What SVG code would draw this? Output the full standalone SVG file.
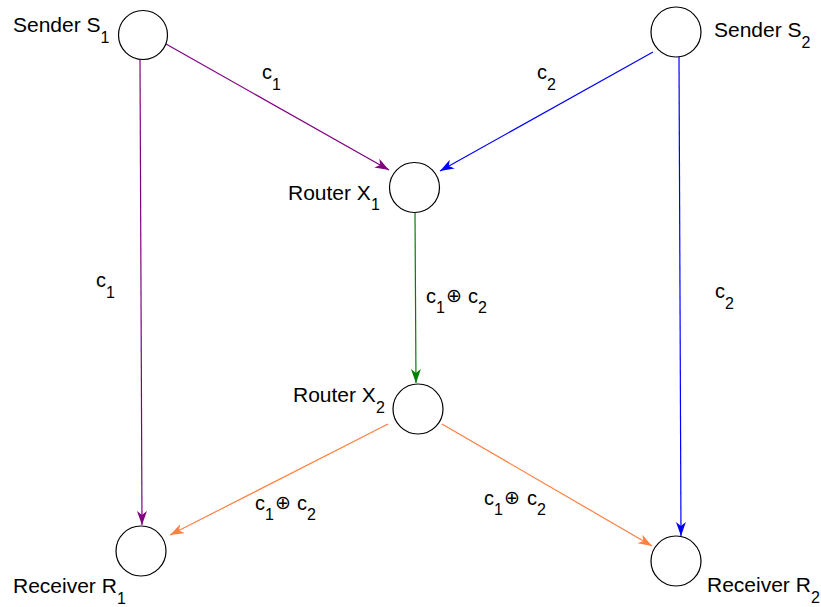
<svg xmlns="http://www.w3.org/2000/svg" width="821" height="607" viewBox="0 0 821 607">
<style>
text{font-family:"Liberation Sans",Arial,sans-serif;fill:#000}
.lbl{font-size:21px}
.el{font-size:20px}
.sub{font-size:16px}
.ox{font-size:19px;font-family:"DejaVu Sans",sans-serif}
.node{fill:#fff;stroke:#000;stroke-width:1.2}
.e{fill:none;stroke-width:1.2}
</style>
<defs>
<marker id="ap" markerUnits="userSpaceOnUse" markerWidth="15" markerHeight="11" refX="14" refY="5" orient="auto"><path d="M0,0 L14,5 L0,10 L4,5 z" fill="#800080"/></marker>
<marker id="ab" markerUnits="userSpaceOnUse" markerWidth="15" markerHeight="11" refX="14" refY="5" orient="auto"><path d="M0,0 L14,5 L0,10 L4,5 z" fill="#0000ff"/></marker>
<marker id="ag" markerUnits="userSpaceOnUse" markerWidth="15" markerHeight="11" refX="14" refY="5" orient="auto"><path d="M0,0 L14,5 L0,10 L4,5 z" fill="#008000"/></marker>
<marker id="ao" markerUnits="userSpaceOnUse" markerWidth="15" markerHeight="11" refX="14" refY="5" orient="auto"><path d="M0,0 L14,5 L0,10 L4,5 z" fill="#ff8040"/></marker>
</defs>
<g id="connectors">
<line class="e" x1="166" y1="44" x2="389" y2="170" stroke="#800080" marker-end="url(#ap)"/>
<line class="e" x1="140" y1="60" x2="142" y2="525" stroke="#800080" marker-end="url(#ap)"/>
<line class="e" x1="653" y1="52" x2="440" y2="171" stroke="#0000ff" marker-end="url(#ab)"/>
<line class="e" x1="679" y1="57" x2="681" y2="536" stroke="#0000ff" marker-end="url(#ab)"/>
<line class="e" x1="415" y1="213" x2="416" y2="383" stroke="#008000" marker-end="url(#ag)"/>
<line class="e" x1="388" y1="424" x2="170" y2="535" stroke="#ff8040" marker-end="url(#ao)"/>
<line class="e" x1="442" y1="424" x2="652" y2="546" stroke="#ff8040" marker-end="url(#ao)"/>
<text class="el" x="262" y="79">c<tspan class="sub" dy="11">1</tspan></text>
<text class="el" x="96" y="287">c<tspan class="sub" dy="11">1</tspan></text>
<text class="el" x="537" y="79">c<tspan class="sub" dy="11">2</tspan></text>
<text class="el" x="715" y="298">c<tspan class="sub" dy="11">2</tspan></text>
<text class="el" x="426" y="303">c<tspan class="sub" dy="10">1</tspan></text>
<text class="ox" x="446" y="302">⊕</text>
<text class="el" x="468" y="303">c<tspan class="sub" dy="10">2</tspan></text>
<text class="el" x="255" y="510">c<tspan class="sub" dy="10">1</tspan></text>
<text class="ox" x="275" y="509">⊕</text>
<text class="el" x="297" y="510">c<tspan class="sub" dy="10">2</tspan></text>
<text class="el" x="484" y="505">c<tspan class="sub" dy="10">1</tspan></text>
<text class="ox" x="504" y="504">⊕</text>
<text class="el" x="527" y="505">c<tspan class="sub" dy="10">2</tspan></text>
</g>
<g id="S1"><circle class="node" cx="143" cy="35" r="24.5"/><text class="lbl" x="13" y="32">Sender S<tspan class="sub" dy="11">1</tspan></text></g>
<g id="S2"><circle class="node" cx="676" cy="32" r="25"/><text class="lbl" x="714" y="37">Sender S<tspan class="sub" dy="11">2</tspan></text></g>
<g id="X1"><circle class="node" cx="414.5" cy="187.5" r="25"/><text class="lbl" x="288" y="200">Router X<tspan class="sub" dy="10">1</tspan></text></g>
<g id="X2"><circle class="node" cx="418" cy="409" r="25"/><text class="lbl" x="293" y="402">Router X<tspan class="sub" dy="11">2</tspan></text></g>
<g id="R1"><circle class="node" cx="141" cy="551" r="25"/><text class="lbl" x="13" y="593">Receiver R<tspan class="sub" dy="11">1</tspan></text></g>
<g id="R2"><circle class="node" cx="676" cy="561" r="25"/><text class="lbl" x="707" y="592">Receiver R<tspan class="sub" dy="11">2</tspan></text></g>
</svg>
